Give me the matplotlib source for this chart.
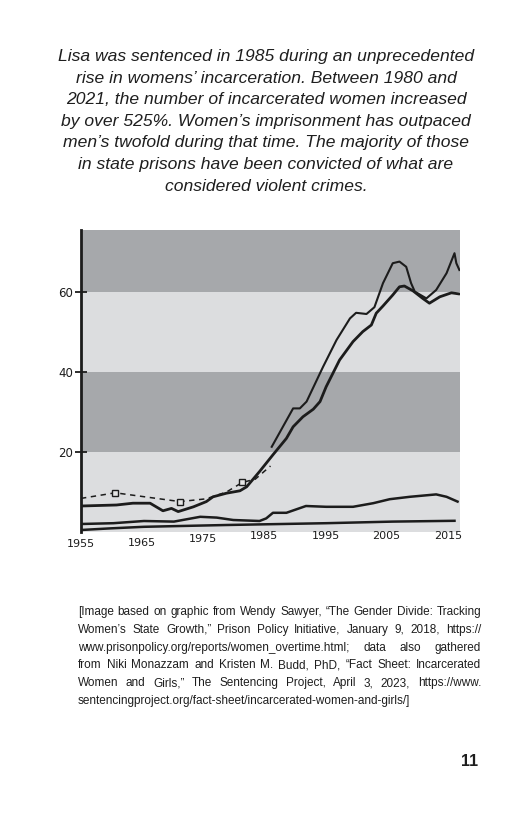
import matplotlib
matplotlib.use("Agg")
import matplotlib.pyplot as plt
import matplotlib.transforms as mtransforms

# values (year, value)
main_years = [1955, 1960.8, 1963.5, 1966.3, 1968.4, 1969.8, 1970.9, 1973.4, 1975.5, 1976.6,
              1978.8, 1981, 1982.1, 1984.2, 1986.4, 1988.6, 1989.7, 1991.3, 1993, 1994.1,
              1995.1, 1997.3, 1999.5, 2001.1, 2002.5, 2003.3, 2004.4, 2006, 2007.1, 2007.9,
              2009.3, 2010.9, 2012, 2013.7, 2015.6, 2016.9]
main_vals = [6.5, 6.75, 7.2, 7.2, 5.3, 5.9, 5.1, 6.3, 7.6, 8.8,
             9.7, 10.3, 11.3, 15.1, 19.3, 23.4, 26.3, 28.8, 30.7, 32.6,
             36.3, 43.0, 47.6, 50.1, 51.75, 54.7, 56.5, 59.25, 61.3, 61.5,
             60.3, 58.4, 57.2, 58.8, 59.8, 59.5]

peak_years = [1986.2, 1989.7, 1990.8, 1991.9, 1994.6, 1996.8, 1999, 2000, 2001.7, 2003,
              2004.4, 2006, 2007.1, 2008.2, 2009, 2009.6, 2011.5, 2013.1, 2014.8, 2016.1,
              2016.4, 2016.9]
peak_vals = [21.3, 30.9, 30.9, 32.6, 41.3, 48.0, 53.4, 54.8, 54.5, 56.2,
             62.2, 67.2, 67.6, 66.3, 62.2, 60.1, 58.4, 60.5, 64.7, 69.7,
             67.2, 65.5]

est_years = [1955, 1960.6, 1971.2, 1975.5, 1978.8, 1981.4, 1983.5, 1986]
est_vals = [8.4, 9.8, 7.6, 8.3, 10.0, 12.4, 13.2, 16.5]

mid_years = [1955, 1960.3, 1965.3, 1970.2, 1974.5, 1977.2, 1979.9, 1984.2, 1985.3, 1986.4,
             1988.6, 1991.8, 1995.1, 1999.5, 2002.8, 2005.5, 2008.8, 2013.1, 2014.8, 2016.6]
mid_vals = [2.0, 2.2, 2.75, 2.6, 3.8, 3.6, 3.0, 2.75, 3.4, 4.8,
            4.8, 6.5, 6.3, 6.3, 7.2, 8.2, 8.8, 9.4, 8.8, 7.6]

low_years = [1955, 1959.7, 1965.3, 1978.8, 1995.1, 2006, 2016.1]
low_vals = [0.5, 0.9, 1.3, 1.75, 2.2, 2.6, 2.8]

band_edges = [0, 20, 40, 60, 76]
band_colors = ["#dcdddf", "#a6a8ab", "#dcdddf", "#a6a8ab"]

x_ticks = [1955, 1965, 1975, 1985, 1995, 2005, 2015]
y_ticks = [20, 40, 60]

title_lines = [
    "Lisa was sentenced in 1985 during an unprecedented",
    "rise in womens\u2019 incarceration. Between 1980 and",
    "2021, the number of incarcerated women increased",
    "by over 525%. Women\u2019s imprisonment has outpaced",
    "men\u2019s twofold during that time. The majority of those",
    "in state prisons have been convicted of what are",
    "considered violent crimes.",
]

note_lines = [
    "[Image based on graphic from Wendy Sawyer, \u201cThe Gender Divide: Tracking",
    "Women\u2019s State Growth,\u201d Prison Policy Initiative, January 9, 2018, https://",
    "www.prisonpolicy.org/reports/women_overtime.html; data also gathered",
    "from Niki Monazzam and Kristen M. Budd, PhD, \u201cFact Sheet: Incarcerated",
    "Women and Girls,\u201d The Sentencing Project, April 3, 2023, https://www.",
    "sentencingproject.org/fact-sheet/incarcerated-women-and-girls/]",
]

W, H = 528, 816
fig = plt.figure(figsize=(W / 100, H / 100), dpi=100)
fig.patch.set_facecolor("white")

ax = fig.add_axes([81 / W, 1 - 532 / H, 379 / W, 302 / H])
for i in range(len(band_colors)):
    ax.axhspan(band_edges[i], band_edges[i + 1], color=band_colors[i], lw=0, zorder=0)

ink = "#1c1c1c"
ax.plot(main_years, main_vals, color=ink, lw=2.0, solid_capstyle="round")
ax.plot(peak_years, peak_vals, color=ink, lw=1.5)
ax.plot(mid_years, mid_vals, color=ink, lw=1.8)
ax.plot(low_years, low_vals, color=ink, lw=1.8)
ax.plot(est_years, est_vals, color=ink, lw=1.1, ls=(0, (3.5, 3)), marker="s",
        markevery=[1, 2, 5], ms=5, mfc="#e6e6e6", mec=ink, mew=1.0)

ax.set_xlim(1955, 2017)
ax.set_ylim(0, 75.5)
for s in ["top", "right", "bottom"]:
    ax.spines[s].set_visible(False)
ax.spines["left"].set_linewidth(2)
ax.spines["left"].set_color(ink)

ax.set_yticks(y_ticks)
ax.set_yticklabels([str(v) for v in y_ticks], fontsize=8.5, color=ink)
ax.tick_params(axis="y", direction="inout", length=9, width=1.3, pad=1, colors=ink)

# hand-lettered year labels sit a little uneven under the axis
ax.set_xticks([])
year_drop = [12, 11, 7, 4, 4, 4, 4]
xlab_tr = mtransforms.blended_transform_factory(ax.transData, ax.transAxes)
for yr, drop in zip(x_ticks, year_drop):
    ax.text(yr, -drop / 302, str(yr), transform=xlab_tr, ha="center", va="center",
            fontsize=8, color=ink, family="DejaVu Sans")

# paragraph above the chart
y0 = 56.5
for i, line in enumerate(title_lines):
    fig.text(0.5 * (1 + 4 / W), 1 - (y0 + i * 21.6) / H, line, ha="center", va="center",
             fontsize=12.6, style="italic", family="Liberation Sans", color="#1e1e1e")

# justified source note
renderer = fig.canvas.get_renderer()
left, right = 78, 481
note_font = "Liberation Sans"
ny = [612, 630, 648, 665.5, 683, 701]
rows = []
for i, line in enumerate(note_lines):
    rows.append([fig.text(0, 1 - ny[i] / H, w, ha="left", va="center", fontsize=9,
                          family=note_font, color="#1e1e1e") for w in line.split(" ")])

# grow the size until the first line fills the width with ~3.5px gaps
note_size = 9.0
for _ in range(4):
    words_w = sum(t.get_window_extent(renderer).width for t in rows[0])
    target = right - left - 3.5 * (len(rows[0]) - 1)
    note_size *= target / words_w
    for row in rows:
        for t in row:
            t.set_fontsize(note_size)

for i, row in enumerate(rows):
    widths = [t.get_window_extent(renderer).width for t in row]
    if i < len(rows) - 1 and len(row) > 1:
        gap = (right - left - sum(widths)) / (len(row) - 1)
    else:
        gap = 3.5
    x = left
    for t, w in zip(row, widths):
        t.set_x(x / W)
        x += w + gap

fig.text(478 / W, 1 - 762 / H, "11", ha="right", va="center", fontsize=11.5,
         weight="bold", family="Liberation Sans", color="#1e1e1e")

fig.savefig("out.png", dpi=100)
